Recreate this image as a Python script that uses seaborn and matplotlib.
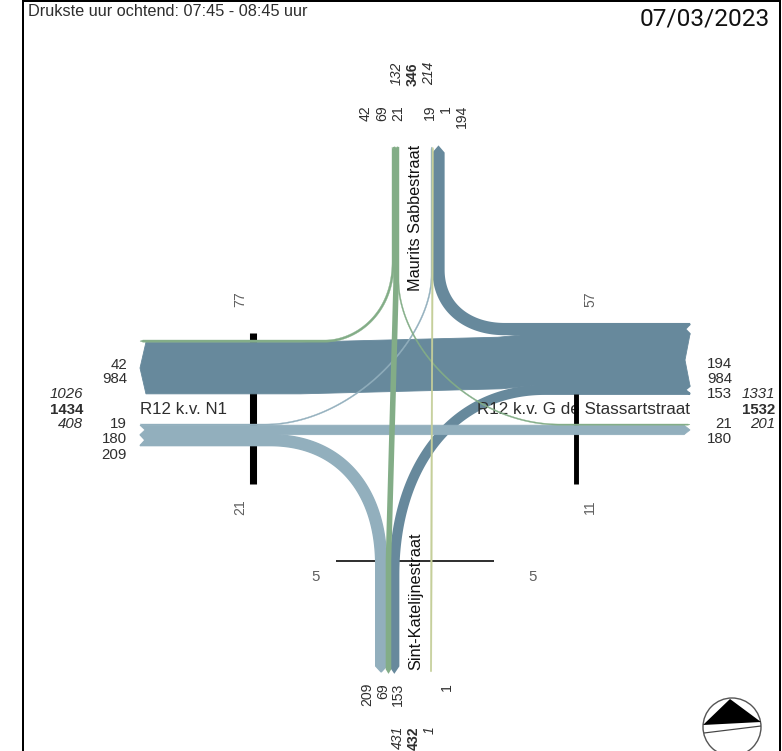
import numpy as np
import matplotlib
matplotlib.use("Agg")
import matplotlib.pyplot as plt
from matplotlib.patches import Circle
import seaborn as sns

# ---- data ----
flow_from = ["E", "E", "E", "W", "W", "W", "N", "N", "N", "S"]
flow_to = ["N", "W", "S", "N", "E", "S", "W", "S", "E", "N"]
flow_volume = [194, 984, 153, 19, 180, 209, 42, 69, 21, 1]
section_names = ["west", "east", "south"]
crossing_above = [77, 57, 5]
crossing_below = [21, 11, 5]
west_name = "R12 k.v. N1"
east_name = "R12 k.v. G de Stassartstraat"
north_name = "Maurits Sabbestraat"
south_name = "Sint-Katelijnestraat"
header_text = "Drukste uur ochtend: 07:45 - 08:45 uur"
date_text = "07/03/2023"

sns.set_theme(style="white")
plt.rcParams["font.family"] = ["Liberation Sans", "DejaVu Sans"]

BLUE, LIGHT, GREEN, OLIVE = "#67899C", "#92AFBD", "#83AD87", "#C5CF9A"
palette = {"E": BLUE, "W": LIGHT, "N": GREEN, "S": OLIVE}
TXT = "#2e2e2e"
SCALE = 0.0525

fig = plt.figure(figsize=(7.82, 7.51), dpi=100, facecolor="white")
ax = fig.add_axes([0, 0, 1, 1])


def px(n):
    return n * 0.72


def width(v):
    return max(v * SCALE, 1.2)


# lane stacks: arm edge coordinates and order of the flows inside
arm_edge = {"W": 140.0, "E": 690.0, "N": 147.0, "S": 672.0}
entry_top = {"W": 424.0, "E": 324.0, "N": 392.0, "S": 430.4}
exit_top = {"W": 340.0, "E": 424.0, "N": 431.0, "S": 375.7}
entry_order = {"W": ["N", "E", "S"], "E": ["N", "W", "S"], "N": ["W", "S", "E"], "S": ["N"]}
exit_order = {"W": ["N", "E"], "E": ["N", "W"], "N": ["W", "S", "E"], "S": ["W", "N", "E"]}
vol = {(o, d): v for o, d, v in zip(flow_from, flow_to, flow_volume)}


def lane_centre(arm, other, entering):
    order = entry_order[arm] if entering else exit_order[arm]
    pos = entry_top[arm] if entering else exit_top[arm]
    for name in order:
        key = (arm, name) if entering else (name, arm)
        w = width(vol[key])
        if name == other:
            return pos + w / 2
        pos += w
    raise KeyError(other)


def arm_point(arm, lane, along=None):
    a = arm_edge[arm] if along is None else along
    return np.array([a, lane]) if arm in "WE" else np.array([lane, a])


# bend geometry: (bend start, control 1, control 2, bend end), each along its own arm
bends = {
    ("E", "N"): (505, 465, 305, 270),
    ("E", "S"): (545, 450, 470, 575),
    ("W", "N"): (265, 350, 340, 275),
    ("W", "S"): (270, 340, 490, 565),
    ("N", "W"): (262, 315, 355, 325),
    ("N", "E"): (280, 345, 470, 560),
}
through = {
    ("E", "W"): (530, 300),
    ("W", "E"): None,
    ("N", "S"): (285, 560),
    ("S", "N"): None,
}
# extra stroke per flow (points): these flows read a little wider than their scaled volume
extra_stroke = {("N", "S"): 1.4, ("E", "N"): 1.5, ("E", "S"): 1.5, ("W", "S"): 1.0}


def segment(a, b):
    n = max(int(np.hypot(*(b - a))) + 2, 3)
    t = np.linspace(0, 1, n)[:, None]
    return a + (b - a) * t


def flow_path(o, d):
    a = lane_centre(o, d, True)
    b = lane_centre(d, o, False)
    start, end = arm_point(o, a), arm_point(d, b)
    if (o, d) in through:
        br = through[(o, d)]
        if br is None:
            return segment(start, end)
        p1, p2 = arm_point(o, a, br[0]), arm_point(d, b, br[1])
        if (o, d) == ("E", "W"):
            mid = np.array([500.0, a + 3.0])
            return np.vstack([segment(start, p1), segment(p1, mid)[1:], segment(mid, p2)[1:], segment(p2, end)[1:]])
        return np.vstack([segment(start, p1), segment(p1, p2)[1:], segment(p2, end)[1:]])
    s, c1, c2, e = bends[(o, d)]
    p0, p1 = arm_point(o, a, s), arm_point(o, a, c1)
    p2, p3 = arm_point(d, b, c2), arm_point(d, b, e)
    t = np.linspace(0, 1, 220)[:, None]
    curve = (1 - t) ** 3 * p0 + 3 * (1 - t) ** 2 * t * p1 + 3 * (1 - t) * t ** 2 * p2 + t ** 3 * p3
    return np.vstack([segment(start, p0), curve[1:], segment(p3, end)[1:]])


def draw_flow(o, d, v, z):
    pts = flow_path(o, d)
    w = width(v)
    if v <= 1:
        w = 1.6
    step = np.hypot(*np.diff(pts, axis=0).T)
    s = np.concatenate([[0], np.cumsum(step)])
    tan = np.gradient(pts, s, axis=0)
    tan /= np.linalg.norm(tan, axis=1, keepdims=True)
    nor = np.column_stack([-tan[:, 1], tan[:, 0]])
    depth = min(5.0, w / 2 + 1.0)
    keep = s <= s[-1] - depth
    left = (pts + nor * w / 2)[keep]
    right = (pts - nor * w / 2)[keep]
    notch = pts[0] + tan[0] * depth
    poly = np.vstack([notch, left, pts[-1], right[::-1]])
    ax.fill(poly[:, 0], poly[:, 1], fc=palette[o], ec=palette[o],
            lw=extra_stroke.get((o, d), 0.6 if v > 100 else 0.25), zorder=z, joinstyle="miter")


order = {"E": 2, "W": 3, "N": 4, "S": 5}
for o, d, v in zip(flow_from, flow_to, flow_volume):
    draw_flow(o, d, v, order[o])


def bar(x, y, lw, z=1.5, color="black"):
    sns.lineplot(x=x, y=y, ax=ax, color=color, linewidth=lw, sort=False, estimator=None,
                 legend=False, zorder=z, solid_capstyle="butt")


# crossing sections: width follows the two counts
sec_w = [(a + b) * 0.072 for a, b in zip(crossing_above, crossing_below)]
bar([253, 253], [333, 484], px(sec_w[0]))
bar([576, 576], [394, 484], px(sec_w[1]), z=2.6)
bar([336, 494], [561, 561], px(max(sec_w[2], 1.6)))

# frame
bar([22.5, 22.5], [0, 751], px(2))
bar([779.5, 779.5], [0, 751], px(2))
bar([22, 780], [1, 1], px(2))


def t(x, y, s, **kw):
    base = dict(fontsize=px(15), color=TXT, zorder=8)
    base.update(kw)
    ax.text(x, y, str(s), **base)


def total(cond):
    return sum(v for o, d, v in zip(flow_from, flow_to, flow_volume) if cond(o, d))


# west and east arm labels
for y, k in zip([365, 379], [("N", "W"), ("E", "W")]):
    t(127, y, vol[k], ha="right", va="center")
for y, k in zip([424, 439, 455], [("W", "N"), ("W", "E"), ("W", "S")]):
    t(127, y, vol[k], ha="right", va="center")
for y, k in zip([364, 379, 394], [("E", "N"), ("E", "W"), ("E", "S")]):
    t(732, y, vol[k], ha="right", va="center")
for y, k in zip([424, 439], [("N", "E"), ("W", "E")]):
    t(732, y, vol[k], ha="right", va="center")


def arm_totals(arm):
    out = total(lambda o, d: d == arm)
    inn = total(lambda o, d: o == arm)
    return inn, out


w_in, w_out = arm_totals("W")
e_in, e_out = arm_totals("E")
n_in, n_out = arm_totals("N")
s_in, s_out = arm_totals("S")
t(83, 394, w_out, ha="right", va="center", style="italic")
t(83, 410, w_in + w_out, ha="right", va="center", weight="bold")
t(83, 424, w_in, ha="right", va="center", style="italic")
t(775, 394, e_in, ha="right", va="center", style="italic")
t(775, 410, e_in + e_out, ha="right", va="center", weight="bold")
t(775, 424, e_out, ha="right", va="center", style="italic")

# north arm labels
vkw = dict(rotation=90, ha="center", va="top", fontsize=px(14))
for x, k in zip([366, 382, 398], [("N", "W"), ("N", "S"), ("N", "E")]):
    t(x, 105, vol[k], **vkw)
for x, k in zip([430, 446, 462], [("W", "N"), ("S", "N"), ("E", "N")]):
    t(x, 105, vol[k], **vkw)
t(397, 62, n_in, style="italic", **vkw)
t(413, 62, n_in + n_out, weight="bold", **vkw)
t(429, 62, n_out, style="italic", **vkw)

# south arm labels
for x, k in zip([367, 383, 398], [("W", "S"), ("N", "S"), ("E", "S")]):
    t(x, 683, vol[k], **vkw)
t(447, 683, vol[("S", "N")], **vkw)
t(398, 726, s_out, style="italic", **vkw)
t(414, 726, s_in + s_out, weight="bold", **vkw)
t(430, 726, s_in, style="italic", **vkw)

# crossing counts
grey = "#5f5f5f"
rkw = dict(rotation=90, ha="center", va="center", color=grey, fontsize=px(14))
t(240, 299, crossing_above[0], **rkw)
t(590, 299, crossing_above[1], **rkw)
t(240, 507, crossing_below[0], **rkw)
t(590, 507, crossing_below[1], **rkw)
t(316, 577, crossing_above[2], ha="center", va="center", color=grey)
t(533, 577, crossing_below[2], ha="center", va="center", color=grey)

# street names
t(140, 409, west_name, ha="left", va="center", fontsize=px(16.9))
t(477, 409, east_name, ha="left", va="center", fontsize=px(17), zorder=2.4)
t(416, 291, north_name, rotation=90, ha="center", va="bottom", fontsize=px(16.2), color="#111111")
t(416, 670, south_name, rotation=90, ha="center", va="bottom", fontsize=px(16.3), color="#111111")

# header
t(28, 11, header_text, ha="left", va="center", fontsize=px(16.2))
t(770, 19, date_text, ha="right", va="center", fontsize=px(24.5), family="Roboto", color="#111111")

# north arrow
ax.add_patch(Circle((732, 727), 29, fc="white", ec="#555555", lw=1.0, zorder=6))
ax.fill([703, 730, 761], [725, 699, 722], color="black", lw=0, zorder=7)
bar([704, 761], [733, 726], px(1.2), z=7, color="#444444")

ax.set_xlim(0, 782)
ax.set_ylim(751, 0)
ax.set_axis_off()
fig.savefig("out.png", dpi=100, facecolor="white")
